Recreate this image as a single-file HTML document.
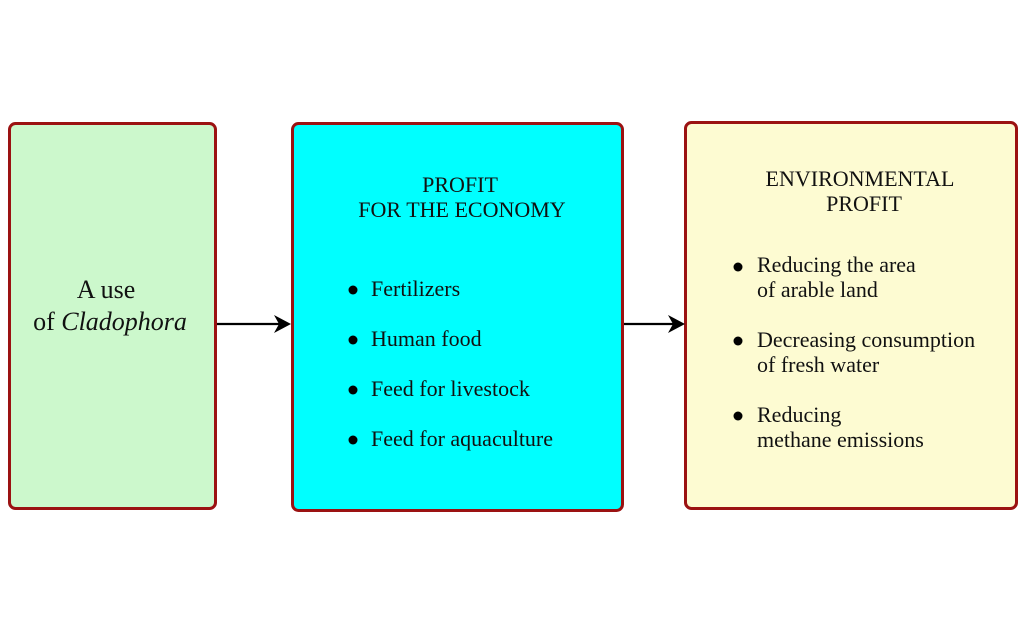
<!DOCTYPE html>
<html><head><style>body{margin:0;background:#fff}</style></head><body>
<svg width="1024" height="632" xmlns="http://www.w3.org/2000/svg" font-family="Liberation Serif, serif" font-size="22" fill="#111">
<rect x="9.5" y="123.5" width="206" height="385" rx="6" fill="#ccf8cc" stroke="#9b1212" stroke-width="3"/>
<rect x="292.5" y="123.5" width="330" height="387" rx="6" fill="#00ffff" stroke="#9b1212" stroke-width="3"/>
<rect x="685.5" y="122.5" width="331" height="386" rx="6" fill="#fdfbd2" stroke="#9b1212" stroke-width="3"/>
<g stroke="#000" stroke-width="2.2" fill="none">
<line x1="217" y1="324" x2="284" y2="324"/>
<line x1="624" y1="324" x2="678" y2="324"/>
</g>
<polygon points="274,315 291,324 274,333 279,324" fill="#000"/>
<polygon points="668,315 685,324 668,333 673,324" fill="#000"/>
<text x="106" y="298" text-anchor="middle" font-size="26">A use</text>
<text x="110" y="330" text-anchor="middle" font-size="26">of <tspan font-style="italic">Cladophora</tspan></text>
<text x="460" y="192" text-anchor="middle">PROFIT</text>
<text x="462" y="217" text-anchor="middle">FOR THE ECONOMY</text>
<g fill="#000"><circle cx="353" cy="290" r="4.5"/><circle cx="353" cy="340" r="4.5"/><circle cx="353" cy="390" r="4.5"/><circle cx="353" cy="440" r="4.5"/></g>
<text x="371" y="296">Fertilizers</text>
<text x="371" y="346">Human food</text>
<text x="371" y="396">Feed for livestock</text>
<text x="371" y="446">Feed for aquaculture</text>
<text x="860" y="186" text-anchor="middle">ENVIRONMENTAL</text>
<text x="864" y="211" text-anchor="middle">PROFIT</text>
<g fill="#000"><circle cx="738" cy="267" r="4.5"/><circle cx="738" cy="341" r="4.5"/><circle cx="738" cy="416" r="4.5"/></g>
<text x="757" y="272">Reducing the area</text>
<text x="757" y="297">of arable land</text>
<text x="757" y="347">Decreasing consumption</text>
<text x="757" y="372">of fresh water</text>
<text x="757" y="422">Reducing</text>
<text x="757" y="447">methane emissions</text>
</svg>
</body></html>
